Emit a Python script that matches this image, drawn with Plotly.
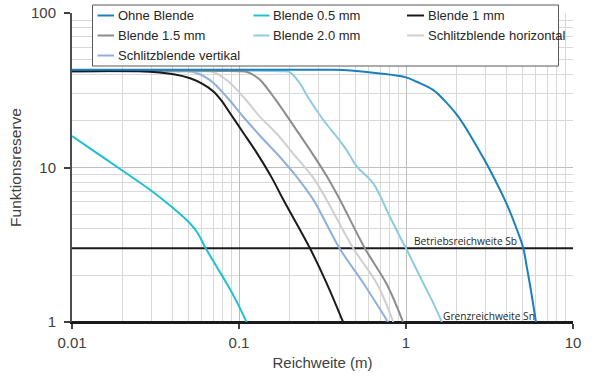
import plotly.graph_objects as go

# ---- data ----
x_ohne = [0.01, 0.1, 0.3, 0.42, 0.698, 1.0, 1.159, 1.452, 1.714, 2.02, 2.32, 2.66, 3.18, 4.01, 4.6, 5.04, 5.3, 5.6, 6.0]
y_ohne = [43, 43, 42.9, 42.8, 40.6, 38.3, 35.9, 31.8, 26.9, 21.9, 17.5, 13.6, 9.64, 5.8, 4.0, 3.0, 2.24, 1.6, 1.0]

x_b05 = [0.01, 0.0141, 0.0199, 0.03, 0.0405, 0.0486, 0.0559, 0.0632, 0.0735, 0.0843, 0.097, 0.111]
y_b05 = [16, 12.4, 9.6, 7.05, 5.44, 4.57, 3.84, 3.0, 2.28, 1.78, 1.35, 1.0]

x_b1 = [0.01, 0.025, 0.0414, 0.051, 0.0608, 0.070, 0.079, 0.088, 0.106, 0.125, 0.157, 0.184, 0.266, 0.335, 0.42]
y_b1 = [42, 41.9, 40, 37.8, 34.7, 31.2, 26.9, 22.6, 16.8, 12.9, 8.6, 6.2, 3.0, 1.78, 1.0]

x_b15 = [0.01, 0.1, 0.112, 0.122, 0.134, 0.168, 0.211, 0.266, 0.335, 0.40, 0.567, 0.766, 0.96]
y_b15 = [42, 42, 41.5, 39.7, 36.8, 26.9, 18.8, 13.0, 8.81, 6.25, 3.0, 1.76, 1.0]

x_b20 = [0.01, 0.18, 0.2, 0.232, 0.254, 0.32, 0.40, 0.44, 0.51, 0.637, 0.80, 0.92, 1.0, 1.27, 1.46, 1.64]
y_b20 = [42, 42, 41.6, 35, 29.5, 20.3, 15, 13, 10.1, 7.9, 4.8, 3.56, 3.0, 1.78, 1.32, 1.0]

x_sh = [0.01, 0.055, 0.0698, 0.0843, 0.106, 0.134, 0.168, 0.211, 0.278, 0.335, 0.483, 0.668, 0.84]
y_sh = [42, 41.9, 41.5, 36.8, 28.7, 21.2, 16.6, 12.3, 8.6, 6.17, 3.0, 1.78, 1.0]

x_sv = [0.01, 0.042, 0.0531, 0.067, 0.0843, 0.106, 0.134, 0.172, 0.222, 0.279, 0.40, 0.556, 0.78]
y_sv = [42, 41.9, 41.5, 36.8, 28.7, 21.3, 16.0, 12.0, 8.68, 6.17, 3.0, 1.78, 1.0]

x_ref = [0.01, 10]
y_betrieb = [3, 3]
y_grenz = [1, 1]

x_ticks = [0.01, 0.1, 1, 10]
x_ticktext = ["0.01", "0.1", "1", "10"]
y_ticks = [1, 10, 100]
y_ticktext = ["1", "10", "100"]

names = ["Ohne Blende", "Blende 0.5 mm", "Blende 1 mm", "Blende 1.5 mm",
         "Blende 2.0 mm", "Schlitzblende horizontal", "Schlitzblende vertikal"]
colors = ["#1a80bb", "#1ec0d2", "#1a1a1a", "#8c8c8c", "#8ecbe0", "#cfcfcf", "#8fb0dc"]
xs = [x_ohne, x_b05, x_b1, x_b15, x_b20, x_sh, x_sv]
ys = [y_ohne, y_b05, y_b1, y_b15, y_b20, y_sh, y_sv]

minor_x = [m * 10 ** e for e in (-2, -1, 0) for m in range(2, 10)]
minor_y = [m * 10 ** e for e in (0, 1) for m in range(2, 10)]

# ---- layout geometry ----
W, H = 600, 390
ML, MR, MT, MB = 72, 27, 13, 68
PW, PH = W - ML - MR, H - MT - MB


def px_x(px):
    return (px - ML) / PW


def px_y(py):
    return (H - MB - py) / PH


fig = go.Figure()

fig.add_trace(go.Scatter(x=x_ref, y=y_betrieb, mode="lines", showlegend=False,
                         line=dict(color="#1a1a1a", width=2), hoverinfo="skip"))
fig.add_trace(go.Scatter(x=x_ref, y=y_grenz, mode="lines", showlegend=False,
                         line=dict(color="#1a1a1a", width=2), hoverinfo="skip"))

for i in [6, 5, 4, 3, 2, 1, 0]:
    fig.add_trace(go.Scatter(x=xs[i], y=ys[i], mode="lines", name=names[i], showlegend=False,
                             line=dict(color=colors[i], width=2, shape="spline", smoothing=1.0)))

font_main = "Liberation Sans, Arial, sans-serif"

# ---- legend box drawn as shapes + text ----
shapes = [dict(type="rect", xref="paper", yref="paper",
               x0=px_x(92.5), x1=px_x(558.5), y0=px_y(66), y1=px_y(5),
               line=dict(color="#595959", width=1), fillcolor="white", layer="above")]
annotations = []
col_px = [(97.5, 114, 115.5), (253.5, 269.5, 270.5), (407, 424, 425.5)]
row_py = [15.5, 35.5, 55.5]
for i, name in enumerate(names):
    r, c = divmod(i, 3)
    lx0, lx1, tx = col_px[c]
    yy = px_y(row_py[r])
    shapes.append(dict(type="line", xref="paper", yref="paper", x0=px_x(lx0), x1=px_x(lx1),
                       y0=yy, y1=yy, line=dict(color=colors[i], width=2), layer="above"))
    annotations.append(dict(x=px_x(tx), y=yy, xref="paper", yref="paper", text=name,
                            showarrow=False, xanchor="left", yanchor="middle",
                            font=dict(family=font_main, size=13, color="#262626")))

annotations += [
    dict(x=0.042, y=0.477, xref="x", yref="y", text="Betriebsreichweite Sb",
         showarrow=False, xanchor="left", yanchor="bottom", yshift=-2, xshift=-1,
         font=dict(family="Open Sans, sans-serif", size=10.2, color="#262626")),
    dict(x=0.222, y=0.0, xref="x", yref="y", text="Grenzreichweite Sn",
         showarrow=False, xanchor="left", yanchor="bottom", yshift=-3, xshift=-2,
         font=dict(family="Open Sans, sans-serif", size=10.2, color="#262626")),
]

fig.update_layout(
    width=W, height=H,
    margin=dict(l=ML, r=MR, t=MT, b=MB, autoexpand=False),
    paper_bgcolor="white", plot_bgcolor="white",
    font=dict(family=font_main, size=15, color="#404040"),
    showlegend=False,
    xaxis=dict(
        type="log", range=[-2, 1], automargin=False,
        tickvals=x_ticks, ticktext=x_ticktext,
        ticks="outside", ticklen=5, tickcolor="#404040", tickwidth=1.5,
        ticklabelstandoff=1, ticklabeloverflow="allow",
        showgrid=True, gridcolor="#bdbdbd", gridwidth=1,
        minor=dict(tickvals=minor_x, showgrid=True, gridcolor="#d9d9d9", gridwidth=1, ticks=""),
        showline=True, linecolor="#1a1a1a", linewidth=2,
        zeroline=False,
        title=dict(text="Reichweite (m)", font=dict(size=15, color="#404040"), standoff=7),
    ),
    yaxis=dict(
        type="log", range=[0, 2], automargin=False,
        tickvals=y_ticks, ticktext=y_ticktext,
        ticks="outside", ticklen=6, tickcolor="#404040", tickwidth=1.5,
        ticklabelstandoff=5, ticklabeloverflow="allow",
        showgrid=True, gridcolor="#bdbdbd", gridwidth=1,
        minor=dict(tickvals=minor_y, showgrid=True, gridcolor="#d9d9d9", gridwidth=1, ticks=""),
        showline=True, linecolor="#4d4d4d", linewidth=2,
        zeroline=False,
        title=dict(text="Funktionsreserve", font=dict(size=15.5, color="#404040"), standoff=6),
    ),
    shapes=shapes,
    annotations=annotations,
)

# remove the default 8px page margin so the 600x390 figure fills the window
fig.write_html("out.html", config={"displayModeBar": False},
               post_script="document.body.style.margin = '0';")
